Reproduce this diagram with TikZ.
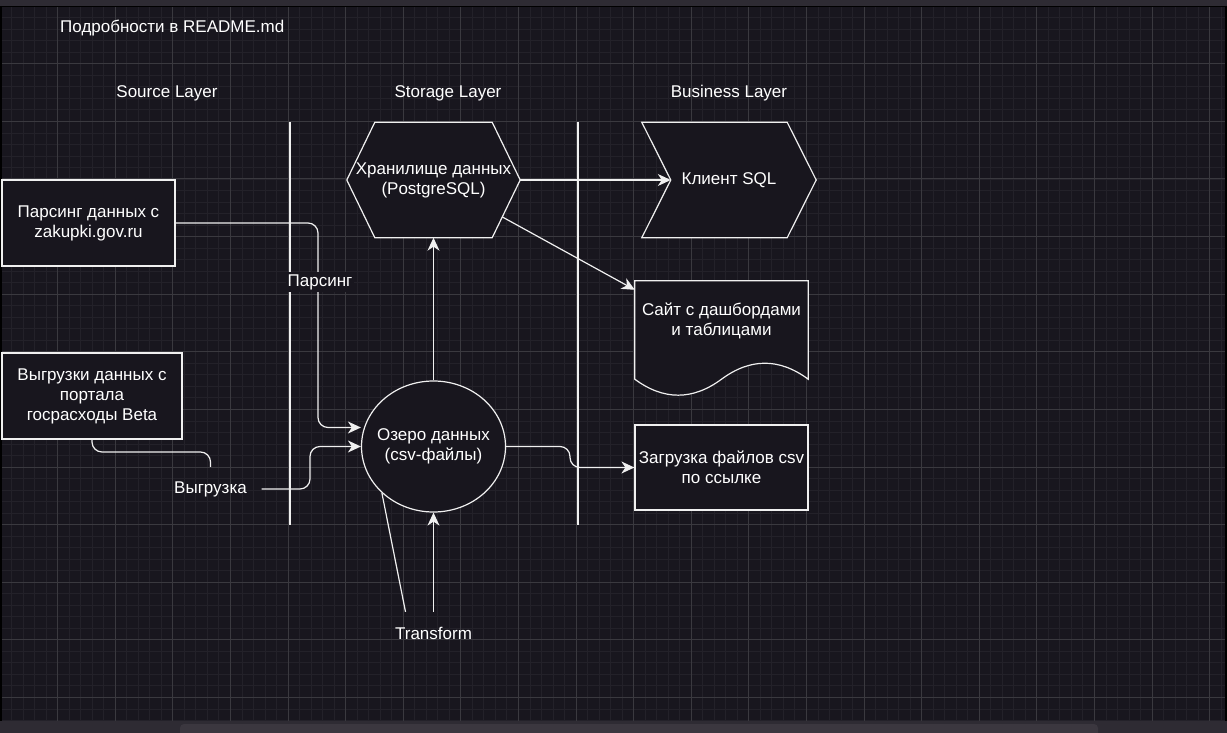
\documentclass[tikz,border=0pt]{standalone}
\usepackage{fontspec}
\setmainfont{Liberation Sans}
\usepackage{xcolor}
\usepackage{tikz}
\usetikzlibrary{positioning, arrows.meta, calc, shapes.geometric}
\definecolor{canvasbg}{HTML}{18161E}
\definecolor{gridminor}{HTML}{232129}
\definecolor{gridmajor}{HTML}{3A393F}
\definecolor{framebar}{HTML}{2E2B33}
\definecolor{scrollthumb}{HTML}{3B373F}
\definecolor{linewhite}{HTML}{F0F0F0}

\pgfdeclarelayer{grid}
\pgfdeclarelayer{outline}
\pgfsetlayers{grid,outline,main}

\tikzset{
  box/.style={draw=linewhite, fill=canvasbg, line width=1.2pt, text=white,
    align=center, inner sep=2pt},
  textonly/.style={text=white, align=center, inner sep=0pt},
  edgeline/.style={draw=linewhite, line width=1.2pt, rounded corners=10pt},
  flow/.style={edgeline, -{Stealth[length=13pt, width=12pt, inset=4pt]}},
  edgelabel/.style={fill=canvasbg, text=white, inner sep=2pt},
  shapeline/.style={draw=linewhite, fill=canvasbg, line width=1.2pt}
}

\begin{document}
\begin{tikzpicture}[x=1pt, y=-1pt, font=\fontsize{17}{20}\selectfont]
  \useasboundingbox (0,0) rectangle (1227,733);
  % canvas with grid
  \begin{pgfonlayer}{grid}
    \fill[canvasbg] (0,0) rectangle (1227,733);
    \foreach \i in {0,...,106}
      \draw[gridminor, line width=0.8pt] (\i*11.52,7) -- (\i*11.52,721);
    \foreach \j in {0,...,62}
      \draw[gridminor, line width=0.8pt] (0,6.2+\j*11.52) -- (1227,6.2+\j*11.52);
    \foreach \i in {0,...,21}
      \draw[gridmajor, line width=1pt] (\i*57.6,7) -- (\i*57.6,721);
    \foreach \j in {0,...,12}
      \draw[gridmajor, line width=1pt] (0,6.2+\j*57.6) -- (1227,6.2+\j*57.6);
    \fill[framebar] (0,0) rectangle (1227,6);
    \fill[framebar] (0,721) rectangle (1227,733);
    \fill[scrollthumb, rounded corners=4pt] (180,724) rectangle (1098,740);
    \draw[black, line width=2pt] (1,6) -- (1,721) (1226,6) -- (1226,721);
    \draw[black, line width=1pt] (0,6.5) -- (1227,6.5);
  \end{pgfonlayer}

  % headings
  \node[textonly, anchor=west] (readme) at (60,28) {Подробности в README.md};
  \node[textonly] (srclayer) at (167,93) {Source Layer};
  \node[textonly] (storelayer) at (448,93) {Storage Layer};
  \node[textonly] (bizlayer) at (729,93) {Business Layer};
  \draw[linewhite, line width=1.2pt] (290,122) -- (290,525);
  \draw[linewhite, line width=1.2pt] (578,122) -- (578,525);

  % sources
  \node[box, minimum width=173pt, minimum height=86pt] (parse) at (88.5,223)
    {Парсинг данных с\\zakupki.gov.ru};
  \node[box, minimum width=180pt, minimum height=86pt] (unload) at (92,396)
    {Выгрузки данных с\\портала\\госрасходы Beta};

  % storage
  \node[box, ellipse, inner sep=0pt, minimum width=144pt, minimum height=131pt,
    label={[textonly]center:Озеро данных\\(csv-файлы)}] (lake) at (433.5,446.5) {};
  \node[textonly, minimum width=173pt, minimum height=115pt] (dwh) at (433.5,180)
    {Хранилище данных\\(PostgreSQL)};
  \node[textonly, minimum width=116pt, minimum height=42pt] (transform) at (433.5,633)
    {Transform};

  % business
  \node[textonly, minimum width=174pt, minimum height=115pt] (client) at (729,180)
    {Клиент SQL};
  \node[textonly, minimum width=173pt, minimum height=80pt] (site) at (721.5,321)
    {Сайт с дашбордами\\и таблицами};
  \node[box, minimum width=173pt, minimum height=85pt] (csv) at (721.5,467.5)
    {Загрузка файлов csv\\по ссылке};

  % outlines of the odd shapes
  \begin{pgfonlayer}{outline}
    \path[shapeline] (dwh.west) -- ([xshift=28pt]dwh.north west)
      -- ([xshift=-28pt]dwh.north east) -- (dwh.east)
      -- ([xshift=-28pt]dwh.south east) -- ([xshift=28pt]dwh.south west) -- cycle;
    \path[shapeline] (client.north west) -- ([xshift=-29pt]client.north east)
      -- (client.east) -- ([xshift=-29pt]client.south east)
      -- (client.south west) -- ([xshift=29pt]client.west) -- cycle;
    \path[shapeline] (site.north west) -- (site.north east)
      -- ([yshift=-18pt]site.south east)
      .. controls ([xshift=-28.8pt, yshift=3.3pt]site.south east)
      and ([xshift=28.8pt, yshift=3.3pt]site.south) .. ([yshift=-18pt]site.south)
      .. controls ([xshift=-28.8pt, yshift=-39.3pt]site.south)
      and ([xshift=28.8pt, yshift=-39.3pt]site.south west) .. ([yshift=-18pt]site.south west)
      -- cycle;
  \end{pgfonlayer}
  \coordinate (dwhtail) at ($(dwh.east)!0.64!([xshift=-28pt]dwh.south east)$);

  % connectors
  \draw[flow] (parse.east) -- (318,223) |- ([yshift=19pt]lake.west);
  \node[edgelabel] (parselbl) at (320,282) {Парсинг};

  \node[textonly, minimum width=102pt, minimum height=44pt] (unloadlbl)
    at (210.5,489) {Выгрузка};
  \draw[edgeline] (unload.south) |- (150,452) -| (unloadlbl.north);
  \draw[flow] (unloadlbl.east) -- (310,489) |- (lake.west);

  \draw[flow] (lake.north) -- (dwh.south);
  \draw[flow] (dwh.east) -- ([xshift=29pt]client.west);
  \draw[flow] (dwhtail) -- ([yshift=-9pt]site.north west);
  \draw[flow] (lake.east) -- (570,446.5) |- (csv.west);
  \draw[edgeline] (lake.222) -- ([xshift=-28pt]transform.north);
  \draw[flow] (transform.north) -- (lake.south);
\end{tikzpicture}
\end{document}
